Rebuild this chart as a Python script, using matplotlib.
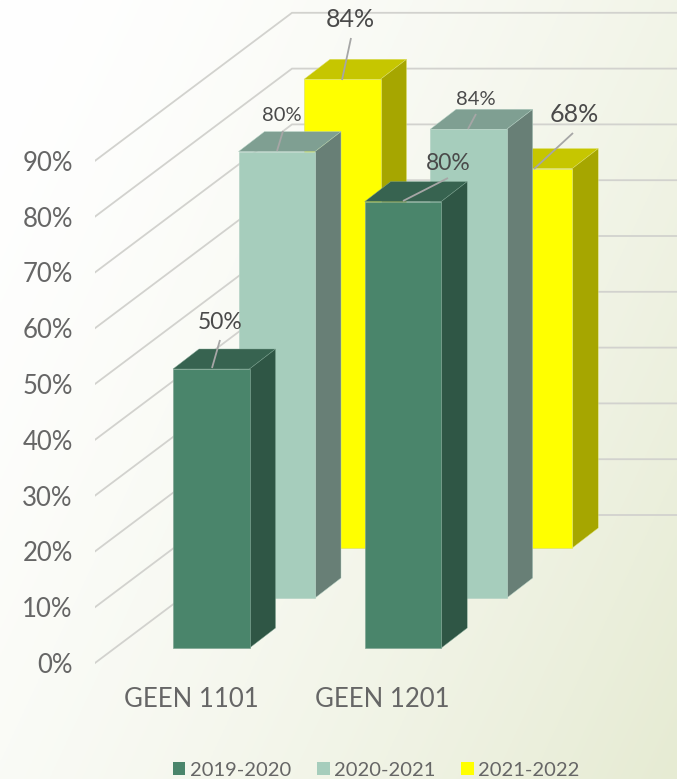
import numpy as np
import matplotlib
matplotlib.use("Agg")
import matplotlib.pyplot as plt
from matplotlib.patches import Polygon, Patch
from matplotlib.transforms import ScaledTranslation

plt.rcParams["font.family"] = ["Lato", "DejaVu Sans"]

courses = ["GEEN 1101", "GEEN 1201"]
years = ["2019-2020", "2020-2021", "2021-2022"]
v_2019 = [50, 80]
v_2020 = [80, 84]
v_2021 = [84, 68]
y_ticks = [0, 10, 20, 30, 40, 50, 60, 70, 80, 90]

W, H = 677, 779
PX = 5.58          # pixels per percent
AX_LEFT = 95
AX_BOTTOM = 680
Y0 = 663           # pixel row of 0%

# colours: front, top, side
shades = [("#4a856b", "#376350", "#2f5645"),
          ("#a6cdbc", "#7f9f92", "#687f76"),
          ("#ffff00", "#c6c600", "#a6a600")]
edges = ["#7fa593", "#b6d3c6", "#dfe26a"]

fig = plt.figure(figsize=(W / 100, H / 100), dpi=100)

# background wash
bg = fig.add_axes([0, 0, 1, 1], zorder=0)
xx, yy = np.meshgrid(np.linspace(0, 1, 340), np.linspace(0, 1, 390))
t = np.clip(0.78 * xx + 0.42 * yy, 0, 1.2) ** 1.5 / 1.2 ** 1.5
c0 = np.array([1.0, 1.0, 1.0])
c1 = np.array([0xe6, 0xeb, 0xd3]) / 255
bg.imshow(c0 + (c1 - c0) * t[..., None], aspect="auto")
bg.axis("off")

ax = fig.add_axes([AX_LEFT / W, 1 - AX_BOTTOM / H, (W - AX_LEFT) / W, AX_BOTTOM / H], zorder=1)
ax.patch.set_alpha(0)
ax.set_xlim(0, W - AX_LEFT)
ax.set_ylim((Y0 - AX_BOTTOM) / PX, Y0 / PX)
for s in ax.spines.values():
    s.set_visible(False)

# depth in axis units
dx = 197
dy = 148 / PX
for v in y_ticks:
    ax.plot([0, dx, W - AX_LEFT], [v, v + dy, v + dy], color="#d2d2ce", lw=1.3, zorder=1,
            solid_joinstyle="miter")


def draw_bar(x, base, val, shade, edge, z):
    w, ox, oy = 76.5, 26, 20 / PX
    front, top, side = shade
    top_y = base + val
    ax.add_patch(Polygon([(x, top_y), (x + ox, top_y + oy), (x + w + ox, top_y + oy), (x + w, top_y)],
                         fc=top, ec=edge, lw=0.3, zorder=z))
    ax.add_patch(Polygon([(x + w, base), (x + w + ox, base + oy), (x + w + ox, top_y + oy), (x + w, top_y)],
                         fc=side, ec=edge, lw=0.3, zorder=z))
    ax.add_patch(Polygon([(x, base), (x + w, base), (x + w, top_y), (x, top_y)],
                         fc=front, ec=edge, lw=0.5, zorder=z))


series = [v_2019, v_2020, v_2021]
for s in [2, 1, 0]:
    for g in range(len(courses)):
        x = 173 - AX_LEFT + g * 191.7 + s * 65.5
        base = (15 + s * 50) / PX
        draw_bar(x, base, series[s][g], shades[s], edges[s], 3 + (2 - s))

# data labels: (series, group, label x, label y, size, line start, line end) in pixels
labels = [(2, 0, 350, 19, 18, (351, 38), (342, 80)),
          (1, 0, 282, 115, 14.5, (283, 131), (277, 151)),
          (0, 0, 220, 322, 16.5, (220, 340), (212, 368)),
          (1, 1, 476, 99, 14.5, (476, 114), (468, 129)),
          (2, 1, 574, 114, 18, (573, 133), (534, 169)),
          (0, 1, 448, 163, 16.5, (448, 178), (403, 201))]


def to_data(px, py):
    return px - AX_LEFT, (Y0 - py) / PX


for s, g, lx, ly, size, p0, p1 in labels:
    a, b = to_data(*p0), to_data(*p1)
    ax.plot([a[0], b[0]], [a[1], b[1]], color="#a6a6a6", lw=1.3, zorder=7, solid_capstyle="butt")
    tx, ty = to_data(lx, ly)
    ax.text(tx, ty, f"{series[s][g]}%", ha="center", va="center", fontsize=size,
            color="#4a4a4a", zorder=8)

ax.set_yticks(y_ticks)
ax.set_yticklabels([f"{v}%" for v in y_ticks], fontsize=18.5, color="#666666")
# tick labels sit a little below their grid lines
down = ScaledTranslation(0, -6 / 100, fig.dpi_scale_trans)
for lab in ax.get_yticklabels():
    lab.set_transform(lab.get_transform() + down)
ax.tick_params(axis="y", length=0, pad=16)
ax.set_xticks([191 - AX_LEFT, 382 - AX_LEFT])
ax.set_xticklabels(courses, fontsize=18.5, color="#666666")
ax.tick_params(axis="x", length=0, pad=5)

handles = [Patch(fc=shades[i][0], ec="none", label=years[i]) for i in range(3)]
fig.legend(handles=handles, loc="lower left", bbox_to_anchor=(173 / W, 0.5 / H), ncols=3, frameon=False,
           labelcolor="#666666", handlelength=0.62, handleheight=0.62, borderpad=0, borderaxespad=0,
           handletextpad=0.2, columnspacing=1.31, prop={"size": 14.5})

fig.savefig("out.png", dpi=100)
